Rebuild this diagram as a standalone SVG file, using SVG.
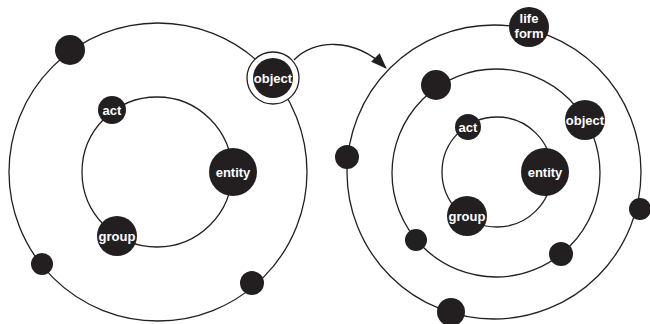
<svg xmlns="http://www.w3.org/2000/svg" width="650" height="324" viewBox="0 0 650 324">
<defs>
<style>
.orbit{fill:none;stroke:#231f20;stroke-width:1.3}
.n{fill:#231f20}
.t{fill:#fff;font-family:"Liberation Sans",Arial,sans-serif;font-weight:bold;font-size:13px;text-anchor:middle}
</style>
<marker id="ah" viewBox="0 0 16 12" refX="15" refY="6" markerWidth="16" markerHeight="12" markerUnits="userSpaceOnUse" orient="auto">
<path d="M0,0 L16,6 L0,12 Z" fill="#231f20"/>
</marker>
</defs>
<g id="orbits">
<circle class="orbit" cx="158" cy="172" r="149"/>
<circle class="orbit" cx="157" cy="172" r="75"/>
<circle class="orbit" cx="494" cy="172" r="147"/>
<circle class="orbit" cx="496" cy="173" r="104"/>
<circle class="orbit" cx="497" cy="172" r="55"/>
</g>
<g id="connectors">
<path class="orbit" d="M294,60 C312,40 354,36 386,68" marker-end="url(#ah)"/>
</g>
<g id="left-dot1"><circle class="n" cx="70" cy="50" r="15"/></g>
<g id="left-object">
<circle cx="273" cy="78" r="26" fill="#fff" stroke="#231f20" stroke-width="1.3"/>
<circle class="n" cx="273" cy="78" r="20"/>
<text class="t" x="273" y="82.5">object</text>
</g>
<g id="left-act"><circle class="n" cx="112" cy="110" r="14"/><text class="t" x="112" y="114.5">act</text></g>
<g id="left-entity"><circle class="n" cx="233" cy="172" r="24"/><text class="t" x="233" y="176.5">entity</text></g>
<g id="left-group"><circle class="n" cx="117" cy="236" r="20"/><text class="t" x="117" y="240.5">group</text></g>
<g id="left-dot2"><circle class="n" cx="42" cy="264" r="11"/></g>
<g id="left-dot3"><circle class="n" cx="252" cy="283" r="12"/></g>

<g id="right-lifeform"><circle class="n" cx="529" cy="27" r="20"/><text class="t" x="529" y="23">life</text><text class="t" x="529" y="38">form</text></g>
<g id="right-dot1"><circle class="n" cx="436" cy="85" r="15"/></g>
<g id="right-object"><circle class="n" cx="585" cy="120" r="20"/><text class="t" x="585" y="124.5">object</text></g>
<g id="right-act"><circle class="n" cx="468" cy="127" r="13"/><text class="t" x="468" y="131.5">act</text></g>
<g id="right-entity"><circle class="n" cx="545" cy="172" r="24"/><text class="t" x="545" y="176.5">entity</text></g>
<g id="right-group"><circle class="n" cx="467" cy="216" r="20"/><text class="t" x="467" y="220.5">group</text></g>
<g id="right-dot2"><circle class="n" cx="347" cy="157" r="12"/></g>
<g id="right-dot3"><circle class="n" cx="640" cy="209" r="11"/></g>
<g id="right-dot4"><circle class="n" cx="416" cy="240" r="11"/></g>
<g id="right-dot5"><circle class="n" cx="561" cy="254" r="12"/></g>
<g id="right-dot6"><circle class="n" cx="451" cy="312" r="14"/></g>
</svg>
